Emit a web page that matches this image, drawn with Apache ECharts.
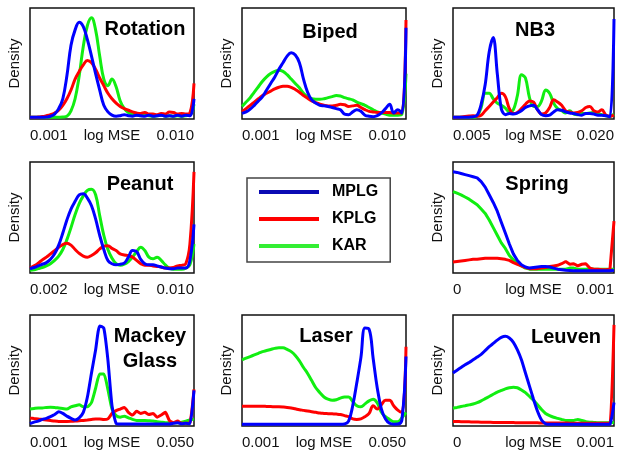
<!DOCTYPE html>
<html>
<head>
<meta charset="utf-8">
<script src="https://cdn.jsdelivr.net/npm/echarts@6.0.0/dist/echarts.min.js"></script>
<style>
  html, body { margin: 0; padding: 0; background: #fff; }
  #main { width: 617px; height: 451px; }
</style>
</head>
<body>
<div id="main"></div>
<script>
// 横轴: 0-100 归一化位置 (log MSE)
var xs = [0, 2.5, 5, 7.5, 10, 12.5, 15, 17.5, 20, 22.5, 25, 27.5, 30, 32.5, 35, 37.5, 40, 42.5, 45, 47.5,
  50, 52.5, 55, 57.5, 60, 62.5, 65, 67.5, 70, 72.5, 75, 77.5, 80, 82.5, 85, 87.5, 90, 92.5, 95, 97.5, 100];

var seriesNames = ['MPLG', 'KPLG', 'KAR'];

// Rotation
var rotTicks = ['0.001', '0.010'];
var rotMPLG = [0, 0, 0, 0, 0.3, 1, 3, 8, 17, 38, 66, 80, 87, 83, 71, 56, 40, 25, 11, 5, 2, 1, 1.5, 2.5, 1.5, 1, 2, 1.5, 1, 2, 1, 1.5, 2, 1, 1.5, 1, 2, 1, 2, 1.5, 17];
var rotKPLG = [0, 0, 0.3, 0.7, 1.5, 2.5, 4, 6.5, 11, 17, 25, 35, 42, 48, 52, 50, 44, 36, 29, 22, 17, 13, 10, 8, 6.5, 5, 4, 3.5, 4.5, 3, 3, 2.5, 3.5, 3, 5, 4.5, 3, 3.5, 3, 4, 31];
var rotKAR = [0, 0, 0, 0, 0, 0, 0, 0.1, 0.3, 1, 6, 17, 38, 65, 84, 91, 80, 56, 35, 29, 35, 28, 15, 8, 4.5, 3, 2, 1.5, 2, 1.5, 1, 1.5, 2, 1, 1.5, 1, 1.5, 1, 1.5, 2, 12];

// Biped
var bipTicks = ['0.001', '0.010'];
var bipMPLG = [3.6, 5, 7.5, 11, 15, 19, 25, 31, 37, 44, 50, 56, 59, 57, 50, 35, 23, 16, 13, 11, 10.5, 10, 9, 8, 7, 3, 2.5, 5, 7, 5.5, 2, 1, 0.6, 1.5, 4, 8, 12, 4, 7, 4, 82];
var bipKPLG = [5, 8, 11, 14, 17, 20, 22, 24, 26, 27.5, 28.5, 28.5, 27.5, 25.5, 23, 20, 17.5, 15, 13.5, 12, 11, 10.5, 10.5, 11, 12, 11.5, 10, 10.5, 11, 9, 7, 5.5, 5, 4.5, 4.5, 4.5, 4.5, 4, 4, 4, 89];
var bipKAR = [10, 14, 18, 23, 28, 33, 37, 40, 42, 43, 42, 39, 35, 31, 27, 22, 19, 17, 16.5, 16.5, 17, 18, 19, 20, 19.5, 18, 17, 16, 14, 12.5, 11, 9, 7, 5, 4, 3, 2, 2, 2, 3, 40];

// NB3
var nb3Ticks = ['0.005', '0.020'];
var nb3MPLG = [0, 0, 0, 0, 0.2, 0.5, 2, 12, 30, 60, 73, 40, 8, 2.5, 3.6, 3, 4, 6, 9, 10.5, 11, 7, 2.5, 1.5, 2, 5, 7, 6.5, 5, 4, 3.5, 2.5, 2, 3.5, 3.5, 3, 2, 2, 1.5, 0.5, 90];
var nb3KPLG = [0, 0, 0.3, 0.8, 1.2, 1.5, 1, 2, 6, 10, 14, 18, 22, 19, 8, 3.5, 4.5, 8, 12, 15, 14, 7, 3, 4, 9, 16, 14, 11, 6, 5, 4, 4.5, 6, 9, 10, 6, 5, 7, 2, 1, 2];
var nb3KAR = [0, 0, 0, 0, 0, 0, 1, 9, 22, 22, 17, 13, 11, 8.5, 5, 7, 20, 39, 36, 18, 10, 10, 15, 25, 22, 13, 8, 6, 4, 6, 3, 2.5, 3.5, 3.5, 4, 4.5, 3.5, 2.5, 1.5, 1, 3];

// Peanut
var pnTicks = ['0.002', '0.010'];
var pnMPLG = [2.4, 3.5, 5, 6.5, 8, 11, 16, 24, 35, 47, 57, 64, 70, 71, 67, 60, 48, 33, 20, 10, 7, 6, 6.5, 7.5, 13, 19, 18, 11, 7, 6, 6, 5, 4, 3, 2.4, 2.4, 3, 3, 3, 10, 43];
var pnKPLG = [3, 5, 7.5, 10.5, 13, 16, 19, 22, 24.5, 25.7, 24, 20, 16.5, 14, 13, 14.5, 17, 20.5, 23, 23.5, 21, 19, 16, 15, 14.5, 13, 10, 7, 5.5, 5.5, 5, 4.5, 4, 3, 3, 3.5, 5, 5.5, 7, 25, 91];
var pnKAR = [1, 1.5, 2.5, 3.5, 5, 7, 10, 14, 20, 29, 40, 52, 62, 69, 74, 75, 70, 51, 33, 20, 12, 7, 5.5, 6.5, 9, 13, 18, 22, 19, 13, 11.5, 13, 10, 6, 3, 2, 2, 2, 3, 6, 25];

// Spring
var spTicks = ['0', '0.001'];
var spMPLG = [91, 90.5, 89.5, 88.5, 87.5, 86.5, 85.5, 82, 77, 70, 63, 55, 45, 35, 25, 16, 10, 6, 4, 3, 3.5, 4, 4.5, 4.5, 4, 3, 2, 1.5, 1, 0.8, 0.6, 0.5, 0.5, 0.5, 0.5, 0.5, 0.5, 0.5, 0.5, 0.5, 1];
var spKPLG = [8.5, 9, 9.5, 10, 10.5, 11, 11, 11.5, 12, 12, 12, 12, 11.5, 11, 10, 8, 6.5, 5, 3.5, 2.5, 2.5, 2.5, 3, 3.5, 4.5, 5, 5.5, 7, 9, 6.5, 7, 5, 6.5, 7, 3, 2, 2, 1.5, 1.5, 2, 46];
var spKAR = [73, 71.5, 70, 68, 66, 63.5, 61, 57, 53, 47, 40, 33, 26, 21, 14.5, 10.5, 7.5, 5, 3, 2, 2, 2, 2, 2, 2, 2, 2, 2, 2, 3, 3, 2, 2, 2, 2.5, 2, 2, 2, 2, 2, 2];

// Mackey Glass
var mgTicks = ['0.001', '0.050'];
var mgMPLG = [0.6, 2, 3, 4.5, 5.5, 7, 9, 11.5, 10, 7.5, 5.5, 4, 6, 11, 25, 47, 68, 90, 88, 59, 17, 1, 0.3, 0.3, 0.3, 0.3, 0.3, 0.3, 0.3, 0.3, 0.3, 0.3, 0.3, 0.3, 0.3, 1, 1.5, 0.5, 1, 0.5, 31];
var mgKPLG = [5.7, 5.3, 5, 4.5, 4, 3.5, 3, 2.7, 2.7, 2.7, 2.8, 3, 3.3, 3.6, 4, 4.5, 5, 5, 4.5, 5, 10, 12.5, 14, 15.5, 11, 8.5, 12, 10, 11, 9, 10, 6.6, 8.5, 11, 3.5, 1.5, 3, 1, 1, 1.5, 32];
var mgKAR = [14, 14.5, 15, 15, 15.5, 15.7, 15.5, 15, 14.5, 14, 16, 17, 18, 16, 16, 20, 33, 46, 46, 32, 14, 8, 6.6, 7.5, 6, 4.5, 3.6, 3.6, 3.6, 3.3, 3, 2.5, 2, 1.5, 1.5, 1.5, 1.5, 2, 3, 4, 5];

// Laser
var lsTicks = ['0.001', '0.050'];
var lsMPLG = [0, 0, 0, 0, 0, 0, 0, 0, 0, 0, 0, 0, 0, 0, 0, 0, 0, 0, 0, 0, 0, 0, 0, 0, 0, 0.3, 3, 17, 38, 61, 88, 87, 60, 33, 14, 5, 1, 0.2, 0.3, 4, 62];
var lsKPLG = [16.6, 16.6, 16.6, 16.6, 16.5, 16.5, 16.4, 16.3, 16.1, 16, 15.8, 15.5, 15, 14.2, 13.4, 12.8, 12.2, 11.6, 11, 10.3, 10, 9.8, 9.6, 9.4, 9, 8, 7, 5, 4.5, 5, 7, 10, 17, 14, 18, 22, 22, 17, 13, 11, 71];
var lsKAR = [59, 60.5, 62, 63.5, 65, 66.5, 67.5, 68.5, 69.5, 70, 70, 68.5, 66.5, 63, 58, 52, 46.5, 40, 33.5, 29, 25, 23, 22, 22.5, 24, 25, 25, 21, 17, 16, 18.7, 21.5, 23, 19.5, 11, 7, 4.5, 2.5, 2.5, 6, 11];

// Leuven
var lvTicks = ['0', '0.001'];
var lvMPLG = [47, 49.5, 52, 54.5, 56.5, 59, 61.5, 64, 67.5, 71, 74, 77, 79.5, 80.5, 79, 75, 68, 59, 47, 35, 23, 12, 4, 0.6, 0, 0, 0, 0, 0, 0, 0, 0, 0, 0, 0, 0, 0, 0, 0, 0.3, 20];
var lvKPLG = [2.7, 2.6, 2.5, 2.4, 2.3, 2.2, 2.1, 2, 2, 1.9, 1.8, 1.8, 1.7, 1.7, 1.6, 1.6, 1.5, 1.5, 1.5, 1.5, 1.4, 1.4, 1.3, 1.3, 1.3, 1.2, 1.2, 1.2, 1.2, 1.1, 1.1, 1.1, 1.1, 1.1, 1, 1, 1, 1, 1, 1, 91];
var lvKAR = [14.8, 15.5, 16.3, 17, 17.8, 18.6, 19.8, 21.5, 23.5, 25.5, 27.5, 29.5, 31, 32.5, 33.5, 34, 33.5, 31.5, 29, 25.5, 22, 18, 13.5, 10, 8, 6.5, 5.5, 4.5, 3.6, 3.6, 3.6, 4.5, 3.5, 2.5, 2, 1.8, 1.5, 1.5, 1.5, 1.5, 2];

var colors = { MPLG: '#0000ff', KPLG: '#ff0000', KAR: '#11ee11' };
var fontName = '"Liberation Sans", Arial, sans-serif';

// 子图: 标题, 刻度, 数据, 行列, 标题位置
var panels = [
  { title: 'Rotation', ticks: rotTicks, data: [rotMPLG, rotKPLG, rotKAR], row: 0, col: 0, tx: 145, ty: 29, smooth: 0.4 },
  { title: 'Biped', ticks: bipTicks, data: [bipMPLG, bipKPLG, bipKAR], row: 0, col: 1, tx: 330, ty: 32, smooth: 0.4 },
  { title: 'NB3', ticks: nb3Ticks, data: [nb3MPLG, nb3KPLG, nb3KAR], row: 0, col: 2, tx: 535, ty: 30, smooth: 0.35 },
  { title: 'Peanut', ticks: pnTicks, data: [pnMPLG, pnKPLG, pnKAR], row: 1, col: 0, tx: 140, ty: 184, smooth: 0.4 },
  { title: 'Spring', ticks: spTicks, data: [spMPLG, spKPLG, spKAR], row: 1, col: 2, tx: 537, ty: 184, smooth: false },
  { title: 'Mackey\nGlass', ticks: mgTicks, data: [mgMPLG, mgKPLG, mgKAR], row: 2, col: 0, tx: 150, ty: 349, smooth: 0.2 },
  { title: 'Laser', ticks: lsTicks, data: [lsMPLG, lsKPLG, lsKAR], row: 2, col: 1, tx: 326, ty: 336, smooth: 0.4 },
  { title: 'Leuven', ticks: lvTicks, data: [lvMPLG, lvKPLG, lvKAR], row: 2, col: 2, tx: 566, ty: 337, smooth: 0.2 }
];

var colPos = [{ left: 30, width: 164 }, { left: 242, width: 164 }, { left: 453, width: 163 }];
var rowPos = [{ top: 8, height: 111 }, { top: 162, height: 111 }, { top: 315, height: 111 }];

var grids = [], xAxes = [], yAxes = [], series = [], graphics = [];

panels.forEach(function (p, i) {
  grids.push({
    left: colPos[p.col].left, width: colPos[p.col].width,
    top: rowPos[p.row].top, height: rowPos[p.row].height,
    show: true, borderColor: '#111', borderWidth: 1.5, backgroundColor: 'transparent'
  });
  xAxes.push({
    gridIndex: i, type: 'value', min: 0, max: 100, interval: 100,
    name: 'log MSE', nameLocation: 'middle', nameGap: 9, nameMoveOverlap: false,
    nameTextStyle: { fontFamily: fontName, fontSize: 15, color: '#111' },
    axisLine: { show: false }, axisTick: { show: false }, splitLine: { show: false },
    axisLabel: {
      margin: 9, fontFamily: fontName, fontSize: 15, color: '#111',
      showMinLabel: true, showMaxLabel: true,
      alignMinLabel: 'left', alignMaxLabel: 'right',
      formatter: (function (t) {
        return function (v) { return v === 0 ? t[0] : (v === 100 ? t[1] : ''); };
      })(p.ticks)
    }
  });
  yAxes.push({
    gridIndex: i, type: 'value', min: -1.5, max: 100,
    name: 'Density', nameLocation: 'middle', nameGap: 8, nameRotate: 90,
    nameTextStyle: { fontFamily: fontName, fontSize: 15, color: '#111' },
    axisLine: { show: false }, axisTick: { show: false },
    axisLabel: { show: false }, splitLine: { show: false }
  });
  // 绿, 红, 蓝 的顺序画, 蓝色在最上
  [2, 1, 0].forEach(function (k) {
    var ys = p.data[k];
    series.push({
      name: seriesNames[k], type: 'line', xAxisIndex: i, yAxisIndex: i,
      data: xs.map(function (x, j) { return [x, ys[j]]; }),
      smooth: p.smooth, showSymbol: false, symbol: 'none',
      lineStyle: { width: 3, color: colors[seriesNames[k]] },
      itemStyle: { color: colors[seriesNames[k]] },
      animation: false
    });
  });
  graphics.push({
    type: 'text', x: p.tx, y: p.ty, z: 100,
    style: {
      text: p.title, font: 'bold 20px ' + fontName, fill: '#000',
      textAlign: 'center', textVerticalAlign: 'middle', lineHeight: 25
    }
  });
});

var myChart = echarts.init(document.getElementById('main'));
var option = {
  backgroundColor: '#fff',
  animation: false,
  grid: grids,
  xAxis: xAxes,
  yAxis: yAxes,
  legend: {
    orient: 'vertical', left: 247, top: 178,
    padding: [6, 12, 8, 12], itemGap: 11,
    itemWidth: 60, itemHeight: 4, icon: 'rect',
    borderColor: '#444', borderWidth: 1.5,
    selectedMode: false,
    textStyle: { fontFamily: fontName, fontSize: 16, fontWeight: 'bold', color: '#000', padding: [0, 0, 0, 8] },
    data: [
      { name: 'MPLG', itemStyle: { color: '#0a0ab4' } },
      { name: 'KPLG', itemStyle: { color: '#ff0000' } },
      { name: 'KAR', itemStyle: { color: '#33ee33' } }
    ]
  },
  graphic: graphics,
  series: series
};
myChart.setOption(option);
</script>
</body>
</html>
